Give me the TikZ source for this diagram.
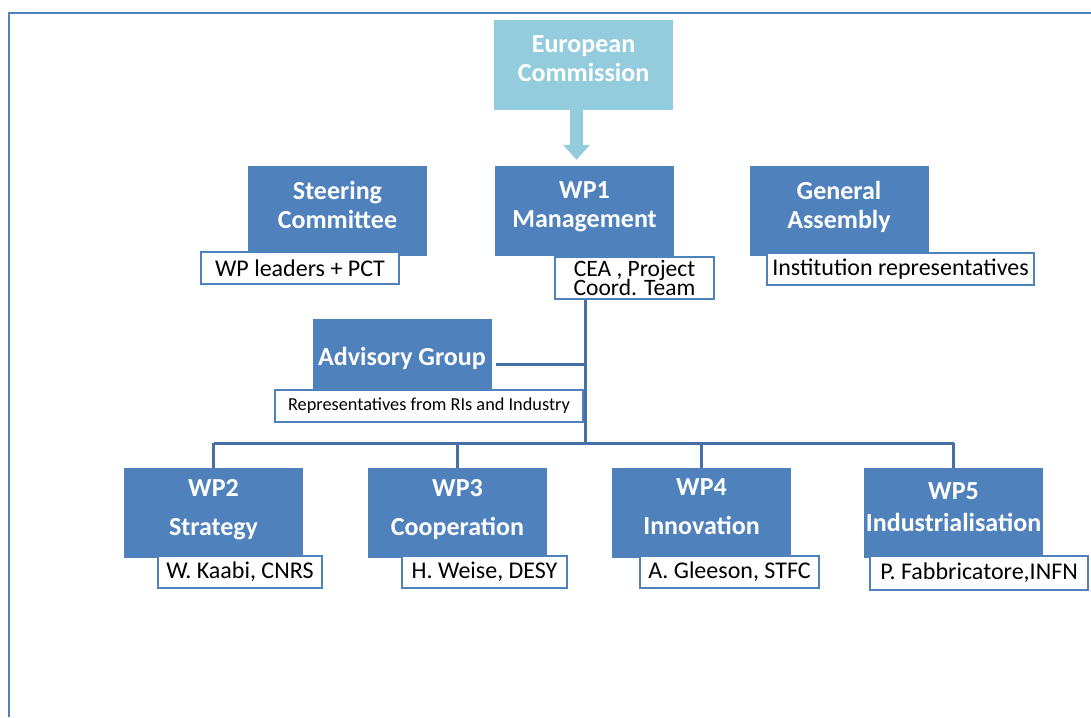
\documentclass[tikz,border=0pt]{standalone}
\usepackage{fontspec}
\setmainfont{Carlito}
\usetikzlibrary{arrows.meta}
\definecolor{wpblue}{RGB}{79,129,189}
\definecolor{ecblue}{RGB}{147,205,221}
\definecolor{linkblue}{RGB}{70,112,166}

\begin{document}
\begin{tikzpicture}[x=1pt,y=-1pt,inner sep=0pt,
  wpbox/.style={fill=wpblue,text=white,font=\fontsize{26}{29}\selectfont\bfseries,
    align=center,text depth=12pt,minimum width=179pt,minimum height=90pt},
  namebox/.style={draw=wpblue,line width=2.5pt,fill=white,
    font=\fontsize{24}{24}\selectfont,minimum height=32pt},
  link/.style={draw=linkblue,line width=3pt}]
\useasboundingbox (0,0) rectangle (1091,717);
% frame, only top and left side are visible
\draw[wpblue,line width=2pt] (9,717) -- (9,13) -- (1091,13);

% top row
\node[wpbox,fill=ecblue] (ec) at (583.5,65) {European\\Commission};
\node[wpbox] (steer) at (337.5,211) {Steering\\Committee};
\node[wpbox] (wp1) at (584.5,211) {WP1\\Management};
\node[wpbox] (ga) at (839,211) {General\\Assembly};
\node[wpbox,text depth=8pt,minimum height=82pt] (adv) at (402,360) {Advisory Group};

\draw[ecblue,line width=13pt,-{Triangle[width=26pt,length=15pt]}]
  ([xshift=-7pt]ec.south) -- ([xshift=-8pt,yshift=6pt]wp1.north);

\node[namebox,minimum width=198pt] (steerlead) at (300,268) {WP leaders + PCT};
\node[namebox,minimum width=159pt,minimum height=42pt,align=center,
  font={\fontsize{23.5}{19.5}\selectfont\lineskiplimit=-50pt}] (wp1lead) at (634.5,278)
  {CEA , Project\\Coord. Team};
\node[namebox,minimum width=267pt] (galead) at (900.5,269) {Institution representatives};
\node[namebox,minimum width=308pt,font=\fontsize{18.3}{18}\selectfont] (advlead) at (429,406)
  {Representatives from RIs and Industry};

% work packages
\node[wpbox] (wp2) at (213.5,513) {WP2\\[10pt]Strategy};
\node[wpbox] (wp3) at (457.5,513) {WP3\\[10pt]Cooperation};
\node[wpbox] (wp4) at (701.5,513) {WP4\\[10pt]Innovation};
\node[wpbox] (wp5) at (953.5,513) {WP5\\[3pt]Industrialisation};

\node[namebox,minimum width=164pt] (wp2lead) at (240,572) {W. Kaabi, CNRS};
\node[namebox,minimum width=165pt] (wp3lead) at (484.5,572) {H. Weise, DESY};
\node[namebox,minimum width=179pt] (wp4lead) at (729.5,572) {A. Gleeson, STFC};
\node[namebox,minimum width=218pt,minimum height=34pt] (wp5lead) at (979,573) {P. Fabbricatore,INFN};

% connectors
\coordinate (junction) at (585,443);
\draw[link] (wp1lead.south -| junction) -- (junction);
\draw[link] ([xshift=4pt,yshift=-4pt]adv.east) -- ([yshift=-4pt]adv.east -| junction);
\draw[link] (wp2.north |- junction) -- (wp5.north |- junction);
\draw[link] (wp2.north |- junction) -- (wp2.north);
\draw[link] (wp3.north |- junction) -- (wp3.north);
\draw[link] (wp4.north |- junction) -- (wp4.north);
\draw[link] (wp5.north |- junction) -- (wp5.north);
\end{tikzpicture}
\end{document}
